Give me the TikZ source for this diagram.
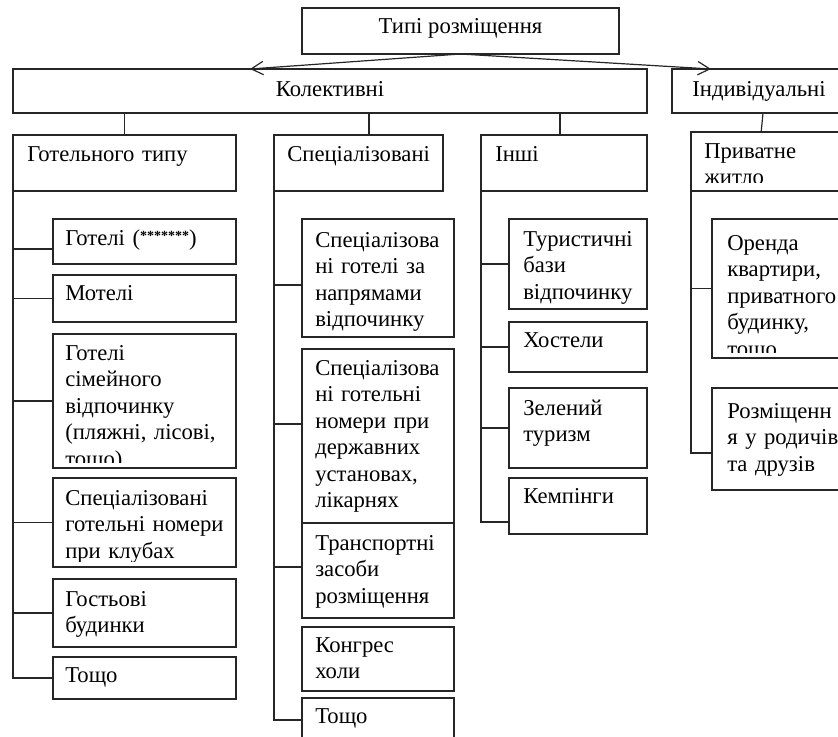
\documentclass[tikz,border=0pt]{standalone}
\usepackage{fontspec}
\setmainfont{Liberation Serif}
\usetikzlibrary{arrows.meta}
\usetikzlibrary{fit}

\tikzset{
  box/.style={draw=black!85, line width=0.9pt, inner sep=0pt, outer sep=0pt},
  txt/.style={font=\fontsize{17}{19.9}\selectfont, inner sep=0pt, text width=150pt, align=left, anchor=base west},
  ctxt/.style={font=\fontsize{17}{19.9}\selectfont, inner sep=0pt, anchor=base},
  link/.style={black!85, line width=0.9pt},
  arr/.style={link, -{Straight Barb[length=9pt,width=10pt]}}
}

\begin{document}
\begin{tikzpicture}[x=0.75pt,y=-0.75pt]
\useasboundingbox (0,0) rectangle (838,736);

% top levels
\node[box, fit={(302,8) (619,54)}] (top) {};
\node[ctxt] at ([shift={(0,25)}]top.north) {Типі розміщення};
\node[box, fit={(13,69) (647,113)}] (kol) {};
\node[ctxt] at ([shift={(0,27)}]kol.north) {Колективні};
\node[box, fit={(672,69) (846,113)}] (ind) {};
\node[ctxt] at ([shift={(0,27)}]ind.north) {Індивідуальні};
\coordinate (kol tip) at (250,69);
\coordinate (ind tip) at (711,69);
\draw[arr] (top.south) -- (kol tip);
\draw[arr] (top.south) -- (ind tip);

\node[box, fit={(13,135) (236,191)}] (gt) {};
\node[txt] at ([shift={(14,26)}]gt.north west) {Готельного типу};
\node[box, fit={(274,135) (443,191)}] (sp) {};
\node[txt] at ([shift={(13,26)}]sp.north west) {Спеціалізовані};
\node[box, fit={(481,135) (647,191)}] (in) {};
\node[txt] at ([shift={(14,26)}]in.north west) {Інші};
\node[box, fit={(691,132) (850,191)}] (pr) {};
\begin{scope}
\clip (pr.north west) rectangle ([yshift=6.5pt]pr.south east);
\node[txt] at ([shift={(13,26)}]pr.north west) {Приватне\\житло};
\end{scope}

\draw[link] (gt.north) -- (gt.north |- kol.south);
\draw[link] ([xshift=7.9pt]sp.north) -- ([xshift=7.9pt]sp.north |- kol.south);
\draw[link] ([xshift=-3pt]in.north) -- ([xshift=-3pt]in.north |- kol.south);
\draw[link] ([xshift=3pt]ind.south) -- ([xshift=-7pt]pr.north);

% hotel type
\node[box, fit={(53,219) (236,264)}] (g1) {};
\node[txt] at ([shift={(12,26)}]g1.north west) {Готелі (\raisebox{3.5pt}{\fontsize{10.5}{10.5}\selectfont\bfseries *******})};
\node[box, fit={(53,275) (236,322)}] (g2) {};
\node[txt] at ([shift={(12,25)}]g2.north west) {Мотелі};
\node[box, fit={(53,334) (236,468)}] (g3) {};
\begin{scope}
\clip (g3.north west) rectangle ([yshift=4pt]g3.south east);
\node[txt] at ([shift={(12,26)}]g3.north west) {Готелі\\сімейного\\відпочинку\\(пляжні, лісові,\\тощо)};
\end{scope}
\node[box, fit={(53,478) (236,567)}] (g4) {};
\begin{scope}
\clip (g4.north west) rectangle ([yshift=4pt]g4.south east);
\node[txt] at ([shift={(12,27)}]g4.north west) {Спеціалізовані\\готельні номери\\при клубах};
\end{scope}
\node[box, fit={(53,579) (236,647)}] (g5) {};
\node[txt] at ([shift={(12,27)}]g5.north west) {Гостьові\\будинки};
\node[box, fit={(53,657) (236,699)}] (g6) {};
\node[txt] at ([shift={(12,25)}]g6.north west) {Тощо};

\draw[link] (gt.south west) |- (g6.west);
\draw[link] ([yshift=-5.6pt]g1.west) -- ([yshift=-5.6pt]g1.west -| gt.west);
\draw[link] (g2.west) -- (g2.west -| gt.west);
\draw[link] (g3.west) -- (g3.west -| gt.west);
\draw[link] (g4.west) -- (g4.west -| gt.west);
\draw[link] (g5.west) -- (g5.west -| gt.west);

% specialised
\node[box, fit={(302,219) (454,337)}] (s1) {};
\node[txt] at ([shift={(13,28)}]s1.north west) {Спеціалізова\\ні готелі за\\напрямами\\відпочинку};
\node[box, fit={(302,349) (454,523)}] (s2) {};
\node[txt] at ([shift={(13,26)}]s2.north west) {Спеціалізова\\ні готельні\\номери при\\державних\\установах,\\лікарнях};
\node[box, fit={(302,523) (454,618)}] (s3) {};
\node[txt] at ([shift={(13,27)}]s3.north west) {Транспортні\\засоби\\розміщення};
\node[box, fit={(302,627) (454,691)}] (s4) {};
\node[txt] at ([shift={(13,25)}]s4.north west) {Конгрес\\холи};
\node[box, fit={(302,698) (454,742)}] (s5) {};
\node[txt] at ([shift={(13,25)}]s5.north west) {Тощо};

\draw[link] (sp.south west) |- (s5.west);
\draw[link] ([yshift=-5.2pt]s1.west) -- ([yshift=-5.2pt]s1.west -| sp.west);
\draw[link] ([yshift=9pt]s2.west) -- ([yshift=9pt]s2.west -| sp.west);
\draw[link] ([yshift=2.6pt]s3.west) -- ([yshift=2.6pt]s3.west -| sp.west);

% others
\node[box, fit={(509,219) (647,309)}] (i1) {};
\node[txt] at ([shift={(14,27)}]i1.north west) {Туристичні\\бази\\відпочинку};
\node[box, fit={(509,322) (647,372)}] (i2) {};
\node[txt] at ([shift={(14,25)}]i2.north west) {Хостели};
\node[box, fit={(509,388) (647,468)}] (i3) {};
\node[txt] at ([shift={(14,27)}]i3.north west) {Зелений\\туризм};
\node[box, fit={(509,478) (647,534)}] (i4) {};
\node[txt] at ([shift={(14,25)}]i4.north west) {Кемпінги};

\draw[link] (in.south west) |- ([yshift=-12pt]i4.west);
\draw[link] (i1.west) -- (i1.west -| in.west);
\draw[link] (i2.west) -- (i2.west -| in.west);
\draw[link] (i3.west) -- (i3.west -| in.west);

% private
\node[box, fit={(712,219) (850,358)}] (r1) {};
\begin{scope}
\clip (r1.north west) rectangle ([yshift=4pt]r1.south east);
\node[txt] at ([shift={(15,31)}]r1.north west) {Оренда\\квартири,\\приватного\\будинку,\\тощо};
\end{scope}
\node[box, fit={(712,388) (850,490)}] (r2) {};
\node[txt] at ([shift={(15,30)}]r2.north west) {Розміщенн\\я у родичів\\та друзів};

\draw[link] (pr.south west) |- ([yshift=-10.5pt]r2.west);
\draw[link] (r1.west) -- (r1.west -| pr.west);

\end{tikzpicture}
\end{document}
